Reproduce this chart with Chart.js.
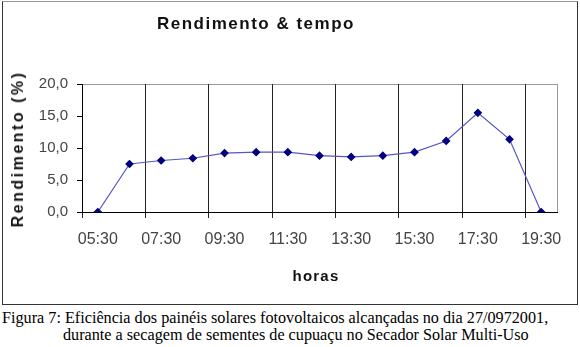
<!DOCTYPE html>
<html>
<head>
<meta charset="utf-8">
<script src="https://cdn.jsdelivr.net/npm/chart.js@4.4.0/dist/chart.umd.min.js"></script>
<style>
  body { margin: 0; background: #fff; width: 580px; height: 347px; position: relative; overflow: hidden; font-family: "Liberation Sans", Arial, sans-serif; }
  #moldura { position: absolute; left: 2px; top: 1px; width: 574px; height: 302px; border: 1px solid #333; border-top-color: #999; }
  #wrap { position: absolute; left: 0; top: 0; width: 580px; height: 300px; }
  #titulo { position: absolute; left: 157px; top: 14px; font-weight: bold; font-size: 17px; letter-spacing: 1.5px; color: #111; white-space: nowrap; }
  #tituloX { position: absolute; left: 316px; top: 267px; transform: translateX(-50%); font-weight: bold; font-size: 15px; letter-spacing: 1.2px; color: #111; }
  #tituloY { position: absolute; left: 18px; top: 149px; transform: translate(-50%, -50%) rotate(-90deg); font-weight: bold; font-size: 16px; letter-spacing: 2.5px; color: #111; white-space: nowrap; }
  .legenda { position: absolute; font-family: "Liberation Serif", "Times New Roman", serif; font-size: 16.2px; color: #000; white-space: nowrap; }
</style>
</head>
<body>
<div id="moldura"></div>
<div id="wrap"><canvas id="grafico" width="580" height="300"></canvas></div>
<div id="titulo">Rendimento &amp; tempo</div>
<div id="tituloX">horas</div>
<div id="tituloY">Rendimento (%)</div>
<div class="legenda" style="left:2px; top:309px;">Figura 7: Eficiência dos painéis solares fotovoltaicos alcançadas no dia 27/0972001,</div>
<div class="legenda" style="left:63px; top:326px;">durante a secagem de sementes de cupuaçu no Secador Solar Multi-Uso</div>

<script>
const horas = ['05:30', '06:30', '07:30', '08:30', '09:30', '10:30', '11:30', '12:30',
  '13:30', '14:30', '15:30', '16:30', '17:30', '18:30', '19:30'];
const rendimento = [0, 7.5, 8.05, 8.4, 9.2, 9.35, 9.35, 8.8, 8.6, 8.8, 9.35, 11.1, 15.5, 11.35, 0];
const yMin = 0;
const yMax = 20;
const yPasso = 5;

// moldura cinza da área de plotagem (topo e direita)
const bordaArea = {
  id: 'bordaArea',
  beforeDraw(chart) {
    const { ctx, chartArea: a } = chart;
    ctx.save();
    ctx.strokeStyle = '#999';
    ctx.lineWidth = 1;
    ctx.strokeRect(Math.round(a.left) + 0.5, Math.round(a.top) + 0.5, Math.round(a.right - a.left), Math.round(a.bottom - a.top));
    ctx.restore();
  }
};

new Chart(document.getElementById('grafico'), {
  type: 'line',
  data: {
    labels: horas,
    datasets: [{
      data: rendimento,
      borderColor: '#5656c4',
      borderWidth: 1.2,
      backgroundColor: '#000080',
      pointBackgroundColor: '#000080',
      pointBorderColor: '#000080',
      pointStyle: 'rectRot',
      pointRadius: 3.5,
      tension: 0
    }]
  },
  options: {
    responsive: false,
    animation: false,
    layout: { padding: { left: 0, right: 23, top: 84, bottom: 0 } },
    plugins: { legend: { display: false }, title: { display: false }, tooltip: { enabled: false } },
    scales: {
      x: {
        type: 'category',
        offset: true,
        afterFit: s => { s.height = 88; },
        grid: {
          offset: true,
          drawOnChartArea: true,
          tickLength: 6,
          color: c => (c.index !== undefined && c.index % 2 === 0) ? '#222' : 'rgba(0,0,0,0)'
        },
        border: { display: true, color: '#000' },
        ticks: {
          autoSkip: false,
          maxRotation: 0,
          padding: 12,
          color: '#444',
          font: { family: 'Liberation Sans, Arial, sans-serif', size: 16 },
          callback: (v, i) => i % 2 === 0 ? horas[i] : ''
        }
      },
      y: {
        min: yMin,
        max: yMax,
        afterFit: s => { s.width = 82; },
        grid: { drawOnChartArea: false, drawTicks: true, tickLength: 5, color: '#000' },
        border: { display: true, color: '#000' },
        ticks: {
          stepSize: yPasso,
          padding: 9,
          color: '#444',
          font: { family: 'Liberation Sans, Arial, sans-serif', size: 15 },
          callback: v => v.toFixed(1).replace('.', ',')
        }
      }
    }
  },
  plugins: [bordaArea]
});
</script>
</body>
</html>
